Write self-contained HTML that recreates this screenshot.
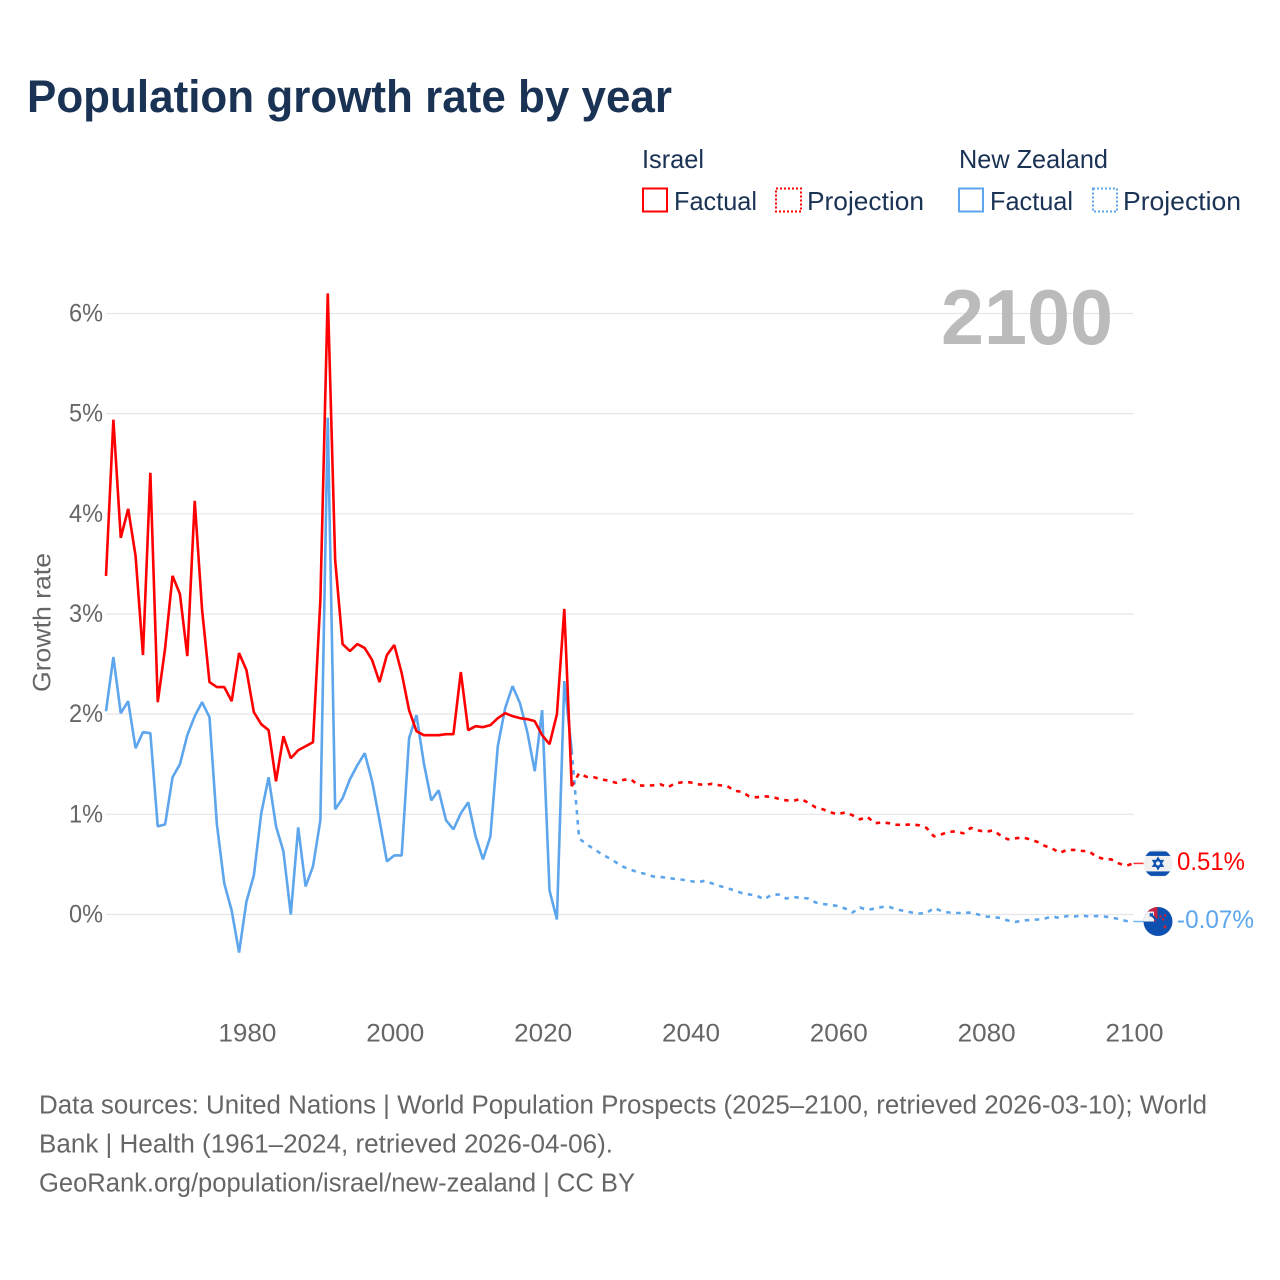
<!DOCTYPE html>
<html lang="en">
<head>
<meta charset="utf-8">
<title>Population growth rate by year</title>
<style>
html,body{margin:0;padding:0;background:#fff;width:1280px;height:1280px;overflow:hidden}
svg{display:block;font-family:"Liberation Sans",sans-serif}
</style>
</head>
<body>
<svg id="chart" width="1280" height="1280" viewBox="0 0 1280 1280" xmlns="http://www.w3.org/2000/svg">
  <rect width="1280" height="1280" fill="#fff"/>
  <text x="27" y="112" font-size="45" font-weight="700" fill="#1a3355" textLength="645" lengthAdjust="spacingAndGlyphs">Population growth rate by year</text>

  <g font-size="26" fill="#1a3355">
    <text x="642" y="168" textLength="62" lengthAdjust="spacingAndGlyphs">Israel</text>
    <rect x="643" y="188.500" width="24" height="23" fill="none" stroke="#ff0000" stroke-width="2"/>
    <text x="674" y="210" textLength="83" lengthAdjust="spacingAndGlyphs">Factual</text>
    <rect x="776" y="188.500" width="25" height="23" fill="none" stroke="#ff0000" stroke-width="2" stroke-dasharray="2 2"/>
    <text x="807" y="210" textLength="117" lengthAdjust="spacingAndGlyphs">Projection</text>
    <text x="959" y="168" textLength="149" lengthAdjust="spacingAndGlyphs">New Zealand</text>
    <rect x="959" y="188.500" width="24" height="23" fill="none" stroke="#5da5ec" stroke-width="2"/>
    <text x="990" y="210" textLength="83" lengthAdjust="spacingAndGlyphs">Factual</text>
    <rect x="1093" y="188.500" width="24" height="23" fill="none" stroke="#5da5ec" stroke-width="2" stroke-dasharray="2 2"/>
    <text x="1123" y="210" textLength="118" lengthAdjust="spacingAndGlyphs">Projection</text>
  </g>

  <g id="grid"></g>
  <g id="yticks"></g>
  <g id="xticks"></g>

  <text x="941" y="344" font-size="78" font-weight="700" fill="#bbbbbb" textLength="172" lengthAdjust="spacingAndGlyphs">2100</text>
  <text transform="translate(50.500 692) rotate(-90)" font-size="25" fill="#666666" textLength="139" lengthAdjust="spacingAndGlyphs">Growth rate</text>

  <g id="series"></g>

  <defs>
    <clipPath id="flag-clip"><circle cx="0" cy="0" r="14.500"/></clipPath>
  </defs>
  <g id="flag-il">
    <g clip-path="url(#flag-clip)">
      <rect x="-15" y="-15" width="30" height="30" fill="#f0f0f0"/>
      <rect x="-15" y="-12" width="30" height="4.500" fill="#0d50b0"/>
      <rect x="-15" y="8" width="30" height="4.500" fill="#0d50b0"/>
      <path d="M0 -5.500L4.800 2.800H-4.800Z M0 5.500L4.800 -2.800H-4.800Z" fill="none" stroke="#0d50b0" stroke-width="1.600"/>
    </g>
  </g>
  <g id="flag-nz">
    <g clip-path="url(#flag-clip)">
      <rect x="-15" y="-15" width="30" height="30" fill="#0d50b0"/>
      <rect x="-15" y="-15" width="14.500" height="15" fill="#f0f0f0"/>
      <rect x="-15" y="-15" width="14.500" height="5" fill="#c8233f"/>
      <rect x="-4" y="-15" width="3.500" height="15" fill="#c8233f"/>
      <path d="M-8 -8L-0.500 -0.500" stroke="#0d50b0" stroke-width="2.200"/>
      <path d="M-9 -5H-5V-9Z" fill="#0d50b0"/>
      <circle cx="2.500" cy="-5" r="1.200" fill="#d0203a"/>
      <circle cx="7" cy="-6" r="1.200" fill="#d0203a"/>
      <circle cx="5" cy="-2" r="1.200" fill="#d0203a"/>
      <circle cx="7" cy="5.500" r="1.500" fill="#d0203a"/>
    </g>
  </g>
  <text id="label-il" x="1177" font-size="25" fill="#ff0000" textLength="68" lengthAdjust="spacingAndGlyphs">0.51%</text>
  <text id="label-nz" x="1177" font-size="25" fill="#5da5ec" textLength="77" lengthAdjust="spacingAndGlyphs">-0.07%</text>

  <g font-size="25.500" fill="#666666">
    <text x="39" y="1113.500" textLength="1168" lengthAdjust="spacingAndGlyphs">Data sources: United Nations | World Population Prospects (2025–2100, retrieved 2026-03-10); World</text>
    <text x="39" y="1152.500" textLength="574" lengthAdjust="spacingAndGlyphs">Bank | Health (1961–2024, retrieved 2026-04-06).</text>
    <text x="39" y="1191.500" textLength="596" lengthAdjust="spacingAndGlyphs">GeoRank.org/population/israel/new-zealand | CC BY</text>
  </g>
</svg>
<script>
const yTicks = [0, 1, 2, 3, 4, 5, 6];
const xTicks = [1980, 2000, 2020, 2040, 2060, 2080, 2100];
const factualStartYear = 1961;
const projectionStartYear = 2024;
const israelFactual = [3.38,4.94,3.76,4.05,3.58,2.59,4.41,2.12,2.66,3.38,3.2,2.58,4.13,3.04,2.32,2.27,2.27,2.13,2.61,2.44,2.02,1.9,1.84,1.33,1.78,1.56,1.64,1.68,1.72,3.14,6.2,3.54,2.7,2.63,2.7,2.66,2.54,2.32,2.59,2.69,2.41,2.04,1.83,1.79,1.79,1.79,1.8,1.8,2.42,1.84,1.88,1.87,1.89,1.96,2.01,1.98,1.96,1.95,1.93,1.79,1.7,2.0,3.05,1.28];
const newZealandFactual = [2.03,2.57,2.01,2.13,1.66,1.82,1.81,0.88,0.9,1.37,1.5,1.79,1.98,2.12,1.97,0.9,0.31,0.04,-0.38,0.13,0.39,1.01,1.37,0.88,0.63,0,0.87,0.28,0.48,0.94,4.96,1.05,1.16,1.35,1.49,1.61,1.33,0.94,0.53,0.59,0.59,1.76,1.99,1.51,1.14,1.24,0.94,0.85,1.01,1.12,0.78,0.55,0.78,1.68,2.06,2.28,2.11,1.82,1.43,2.04,0.24,-0.05,2.33,1.64];
const israelProjection = [1.28,1.41,1.375,1.37,1.35,1.335,1.315,1.345,1.35,1.29,1.285,1.29,1.3,1.27,1.31,1.32,1.32,1.3,1.295,1.305,1.29,1.285,1.235,1.225,1.18,1.17,1.18,1.175,1.155,1.14,1.135,1.155,1.115,1.07,1.05,1.02,1.0,1.02,0.99,0.95,0.975,0.91,0.92,0.91,0.895,0.895,0.9,0.89,0.865,0.78,0.8,0.825,0.83,0.81,0.865,0.84,0.825,0.84,0.79,0.75,0.76,0.77,0.75,0.725,0.685,0.66,0.615,0.645,0.645,0.635,0.63,0.575,0.555,0.55,0.51,0.487,0.51];
const newZealandProjection = [1.64,0.76,0.7,0.655,0.605,0.565,0.52,0.475,0.447,0.42,0.405,0.38,0.375,0.365,0.355,0.347,0.335,0.32,0.337,0.31,0.285,0.265,0.24,0.215,0.2,0.19,0.15,0.195,0.2,0.16,0.175,0.165,0.16,0.12,0.105,0.095,0.085,0.06,0.02,0.07,0.045,0.06,0.075,0.075,0.05,0.035,0.02,0.01,0.015,0.065,0.035,0.02,0.015,0.015,0.02,0,-0.02,-0.025,-0.035,-0.06,-0.075,-0.06,-0.055,-0.05,-0.04,-0.02,-0.035,-0.015,-0.02,-0.01,-0.02,-0.015,-0.02,-0.03,-0.045,-0.065,-0.07];

const SVG_NS = 'http://www.w3.org/2000/svg';
const RED = '#ff0000';
const BLUE = '#5da5ec';
function xScale(year) { return 106 + (year - 1961) * (1133.5 - 106) / 139; }
function yScale(value) { return 914.5 - value * 100.17; }
function make(tag, attrs, parent) {
  const el = document.createElementNS(SVG_NS, tag);
  for (const key in attrs) el.setAttribute(key, attrs[key]);
  parent.appendChild(el);
  return el;
}
function pathFrom(values, startYear) {
  return values.map(function (v, i) {
    return (i ? 'L' : 'M') + xScale(startYear + i).toFixed(2) + ' ' + yScale(v).toFixed(2);
  }).join('');
}

const grid = document.getElementById('grid');
const yGroup = document.getElementById('yticks');
const xGroup = document.getElementById('xticks');
const series = document.getElementById('series');

yTicks.forEach(function (t) {
  const line = make('line', { x1: 106, x2: 1133.5, y1: yScale(t), y2: yScale(t), stroke: '#e6e6e6', 'stroke-width': 1.2 }, grid);
  
  
  const label = make('text', { x: 103, y: yScale(t) + 8, 'text-anchor': 'end', 'font-size': 25, fill: '#666666', textLength: 34, lengthAdjust: 'spacingAndGlyphs' }, yGroup);
  
  
  label.textContent = t + '%';
});
xTicks.forEach(function (t) {
  const label = make('text', { x: xScale(t) + 1, y: 1041.5, 'text-anchor': 'middle', 'font-size': 25, fill: '#666666', textLength: 58, lengthAdjust: 'spacingAndGlyphs' }, xGroup);
  
  
  label.textContent = t;
});

const nzProjLine = make('path', { d: pathFrom(newZealandProjection, projectionStartYear), fill: 'none', stroke: BLUE, 'stroke-width': 2.6, 'stroke-dasharray': '4.5 5.5', 'stroke-linejoin': 'bevel' }, series);


const nzLine = make('path', { d: pathFrom(newZealandFactual, factualStartYear), fill: 'none', stroke: BLUE, 'stroke-width': 2.6, 'stroke-linejoin': 'bevel' }, series);


const ilProjLine = make('path', { d: pathFrom(israelProjection, projectionStartYear), fill: 'none', stroke: RED, 'stroke-width': 2.6, 'stroke-dasharray': '4.5 5.5', 'stroke-linejoin': 'bevel' }, series);


const ilLine = make('path', { d: pathFrom(israelFactual, factualStartYear), fill: 'none', stroke: RED, 'stroke-width': 2.6, 'stroke-linejoin': 'bevel' }, series);



const ilEnd = israelProjection[israelProjection.length - 1];
const nzEnd = newZealandProjection[newZealandProjection.length - 1];
const ilTail = make('line', { x1: xScale(2100), x2: 1144, y1: yScale(ilEnd), y2: yScale(ilEnd), stroke: RED, 'stroke-width': 1.5, opacity: 0.8 }, series);


const nzTail = make('line', { x1: xScale(2100), x2: 1144, y1: yScale(nzEnd), y2: yScale(nzEnd), stroke: BLUE, 'stroke-width': 1.5, opacity: 0.8 }, series);



document.getElementById('flag-il').setAttribute('transform', 'translate(1158 ' + yScale(ilEnd) + ')');
document.getElementById('flag-nz').setAttribute('transform', 'translate(1158 ' + yScale(nzEnd) + ')');
document.getElementById('label-il').setAttribute('y', yScale(ilEnd) + 6.5);
document.getElementById('label-nz').setAttribute('y', yScale(nzEnd) + 6.5);
</script>
</body>
</html>
